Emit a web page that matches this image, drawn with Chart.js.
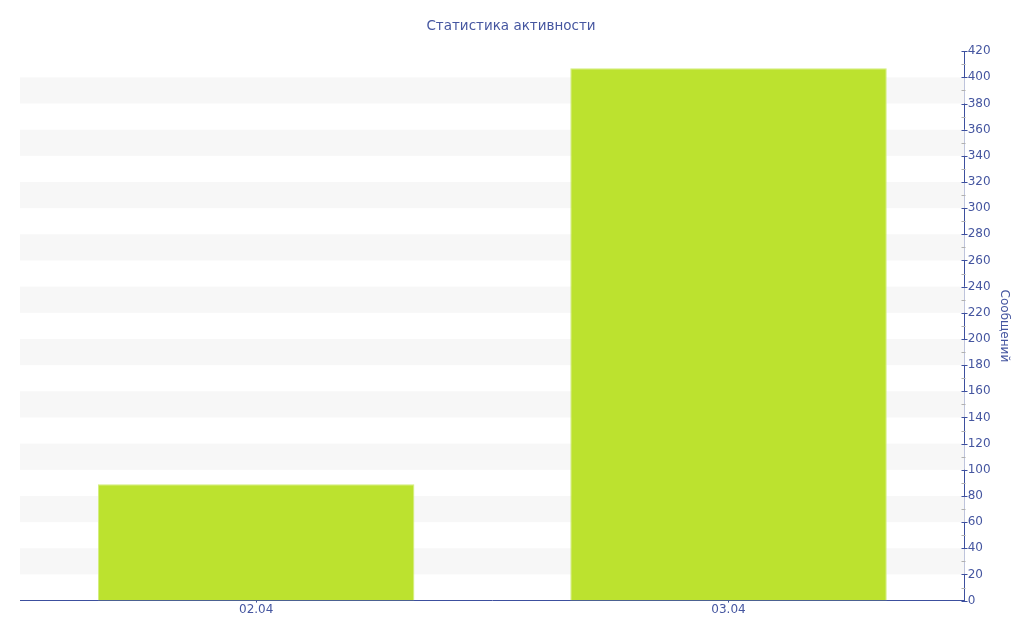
<!DOCTYPE html>
<html>
<head>
<meta charset="utf-8">
<script src="https://cdn.jsdelivr.net/npm/chart.js@4/dist/chart.umd.min.js"></script>
<style>
    html, body { margin: 0; padding: 0; background: #fff; }
    #wrap { width: 1024px; height: 640px; }
</style>
</head>
<body>
<div id="wrap"><canvas id="activityChart"></canvas></div>
<script>
// Chart data
const days = ['02.04', '03.04'];
const messages = [89, 407];
const yTicks = [0, 20, 40, 60, 80, 100, 120, 140, 160, 180, 200, 220, 240, 260, 280, 300, 320, 340, 360, 380, 400, 420];

const textColor = '#4556a0';
const axisColor = '#3c4f9e';
const fontFamily = "'DejaVu Sans', sans-serif";

// Alternating gray bands + custom ticks on the right axis
const bandsPlugin = {
    id: 'bands',
    beforeDatasetsDraw(chart) {
        const { ctx, chartArea, scales } = chart;
        const y = scales.y;
        ctx.save();
        ctx.fillStyle = '#f7f7f7';
        for (let i = 1; i < yTicks.length - 1; i += 2) {
            const top = y.getPixelForValue(yTicks[i + 1]);
            const bottom = y.getPixelForValue(yTicks[i]);
            ctx.fillRect(chartArea.left, top, chartArea.right - chartArea.left, bottom - top);
        }
        ctx.restore();
    },
    afterDraw(chart) {
        const { ctx, chartArea, scales } = chart;
        const y = scales.y;
        const x0 = Math.round(chartArea.right) + 0.5;
        ctx.save();
        ctx.lineWidth = 1;
        // minor ticks (half steps)
        ctx.strokeStyle = '#b0b0b0';
        for (let i = 0; i < yTicks.length - 1; i++) {
            const py = Math.round(y.getPixelForValue((yTicks[i] + yTicks[i + 1]) / 2)) + 0.5;
            ctx.beginPath();
            ctx.moveTo(x0 - 4, py);
            ctx.lineTo(x0, py);
            ctx.stroke();
        }
        // major ticks crossing the axis line
        ctx.strokeStyle = axisColor;
        yTicks.forEach(v => {
            const py = Math.round(y.getPixelForValue(v)) + 0.5;
            ctx.beginPath();
            ctx.moveTo(x0 - 4, py);
            ctx.lineTo(x0 + 2, py);
            ctx.stroke();
        });
        ctx.restore();
    }
};

new Chart(document.getElementById('activityChart'), {
    type: 'bar',
    data: {
        labels: days,
        datasets: [{
            label: 'Сообщений',
            data: messages,
            backgroundColor: '#bce22f',
            borderColor: '#d3ee7e',
            borderWidth: 1,
            barPercentage: 0.67,
            categoryPercentage: 1,
            yAxisID: 'y'
        }]
    },
    options: {
        responsive: true,
        maintainAspectRatio: false,
        animation: false,
        layout: { padding: { left: 8, right: 10, top: 4, bottom: 23 } },
        plugins: {
            legend: { display: false },
            tooltip: { enabled: false },
            title: {
                display: true,
                text: 'Статистика активности',
                color: textColor,
                font: { family: fontFamily, size: 13.5, weight: 'normal' },
                padding: { top: 14, bottom: 17 }
            }
        },
        scales: {
            x: {
                grid: { display: true, drawOnChartArea: false, offset: false, color: axisColor, tickLength: 2 },
                border: { display: true, color: axisColor, width: 1 },
                ticks: { color: textColor, font: { family: fontFamily, size: 12 }, padding: 0 }
            },
            // empty spacer on the left so the plot starts at x=20
            spacer: {
                position: 'left',
                grid: { display: false },
                border: { display: false },
                ticks: { display: false },
                afterFit: axis => { axis.width = 12; }
            },
            y: {
                position: 'right',
                min: 0,
                max: 420,
                afterBuildTicks: axis => { axis.ticks = yTicks.map(v => ({ value: v })); },
                grid: { display: false, drawTicks: false, tickLength: 0 },
                border: { display: true, color: axisColor, width: 1 },
                ticks: { color: textColor, font: { family: fontFamily, size: 12 }, padding: 3 },
                title: {
                    display: true,
                    text: 'Сообщений',
                    color: textColor,
                    font: { family: fontFamily, size: 12 },
                    padding: { top: 3, bottom: 3 }
                }
            }
        }
    },
    plugins: [bandsPlugin]
});
</script>
</body>
</html>
